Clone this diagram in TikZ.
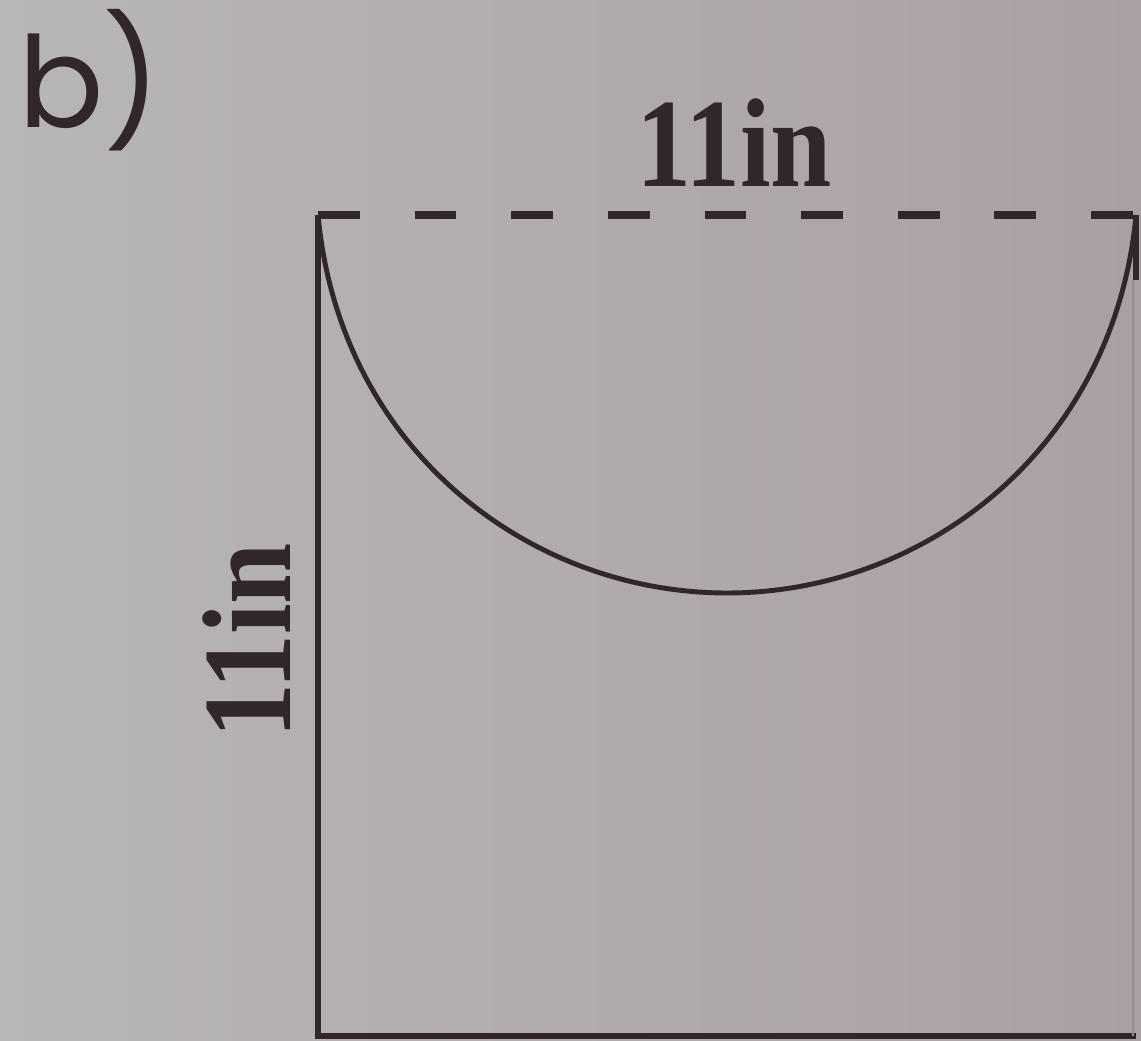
\documentclass[tikz,border=0pt]{standalone}
\usepackage{graphicx}
\usepackage{fontspec}
\setmainfont{Liberation Serif}
\newfontfamily\popfont{Poppins}
\definecolor{bgA}{RGB}{184,182,183}
\definecolor{bgB}{RGB}{170,160,163}
\definecolor{ink}{RGB}{48,38,44}
\definecolor{faint}{RGB}{150,140,145}
\newcommand{\dimtext}{\scalebox{0.87}[1]{11in}}
\begin{document}
\begin{tikzpicture}[x=0.02cm,y=0.02cm,
  solidline/.style={draw=ink,line width=3pt},
  dashline/.style={draw=ink,line width=5pt,dash pattern=on 23.8pt off 31.2pt},
  dimlabel/.style={font=\fontsize{72}{72}\selectfont\bfseries,text=ink,inner sep=0pt,anchor=base},
  partlabel/.style={font=\popfont\fontsize{72}{72}\selectfont,text=ink,inner sep=0pt,anchor=base west}]
\useasboundingbox (0,0) rectangle (1141,1040);
\shade[left color=bgA,right color=bgB] (0,0) rectangle (1141,1040);
% corners (y = 1040 - pixel row)
\coordinate (tl) at (318,825);
\coordinate (tr) at (1136,825);
\coordinate (bl) at (318,4);
\coordinate (br) at (1136,4);
\coordinate (mid) at (727,447);
% square
\draw[solidline] (tl) -- (bl) -- (br);
\draw[draw=faint,line width=1.5pt] (1133,760) -- (1133,4);
\draw[solidline] (tr) -- (1136,760);
\draw[dashline] (tl) -- (tr);
% curved cut
\draw[solidline,line width=2.8pt] (tl) .. controls (340,590) and (530,447) .. (mid)
  .. controls (924,447) and (1114,590) .. (tr);
% labels
\node[dimlabel] (top) at (734,853) {\dimtext};
\node[dimlabel,rotate=90] (side) at (290,399) {\dimtext};
\node[partlabel] (b) at (18,912) {b)};
\end{tikzpicture}
\end{document}
